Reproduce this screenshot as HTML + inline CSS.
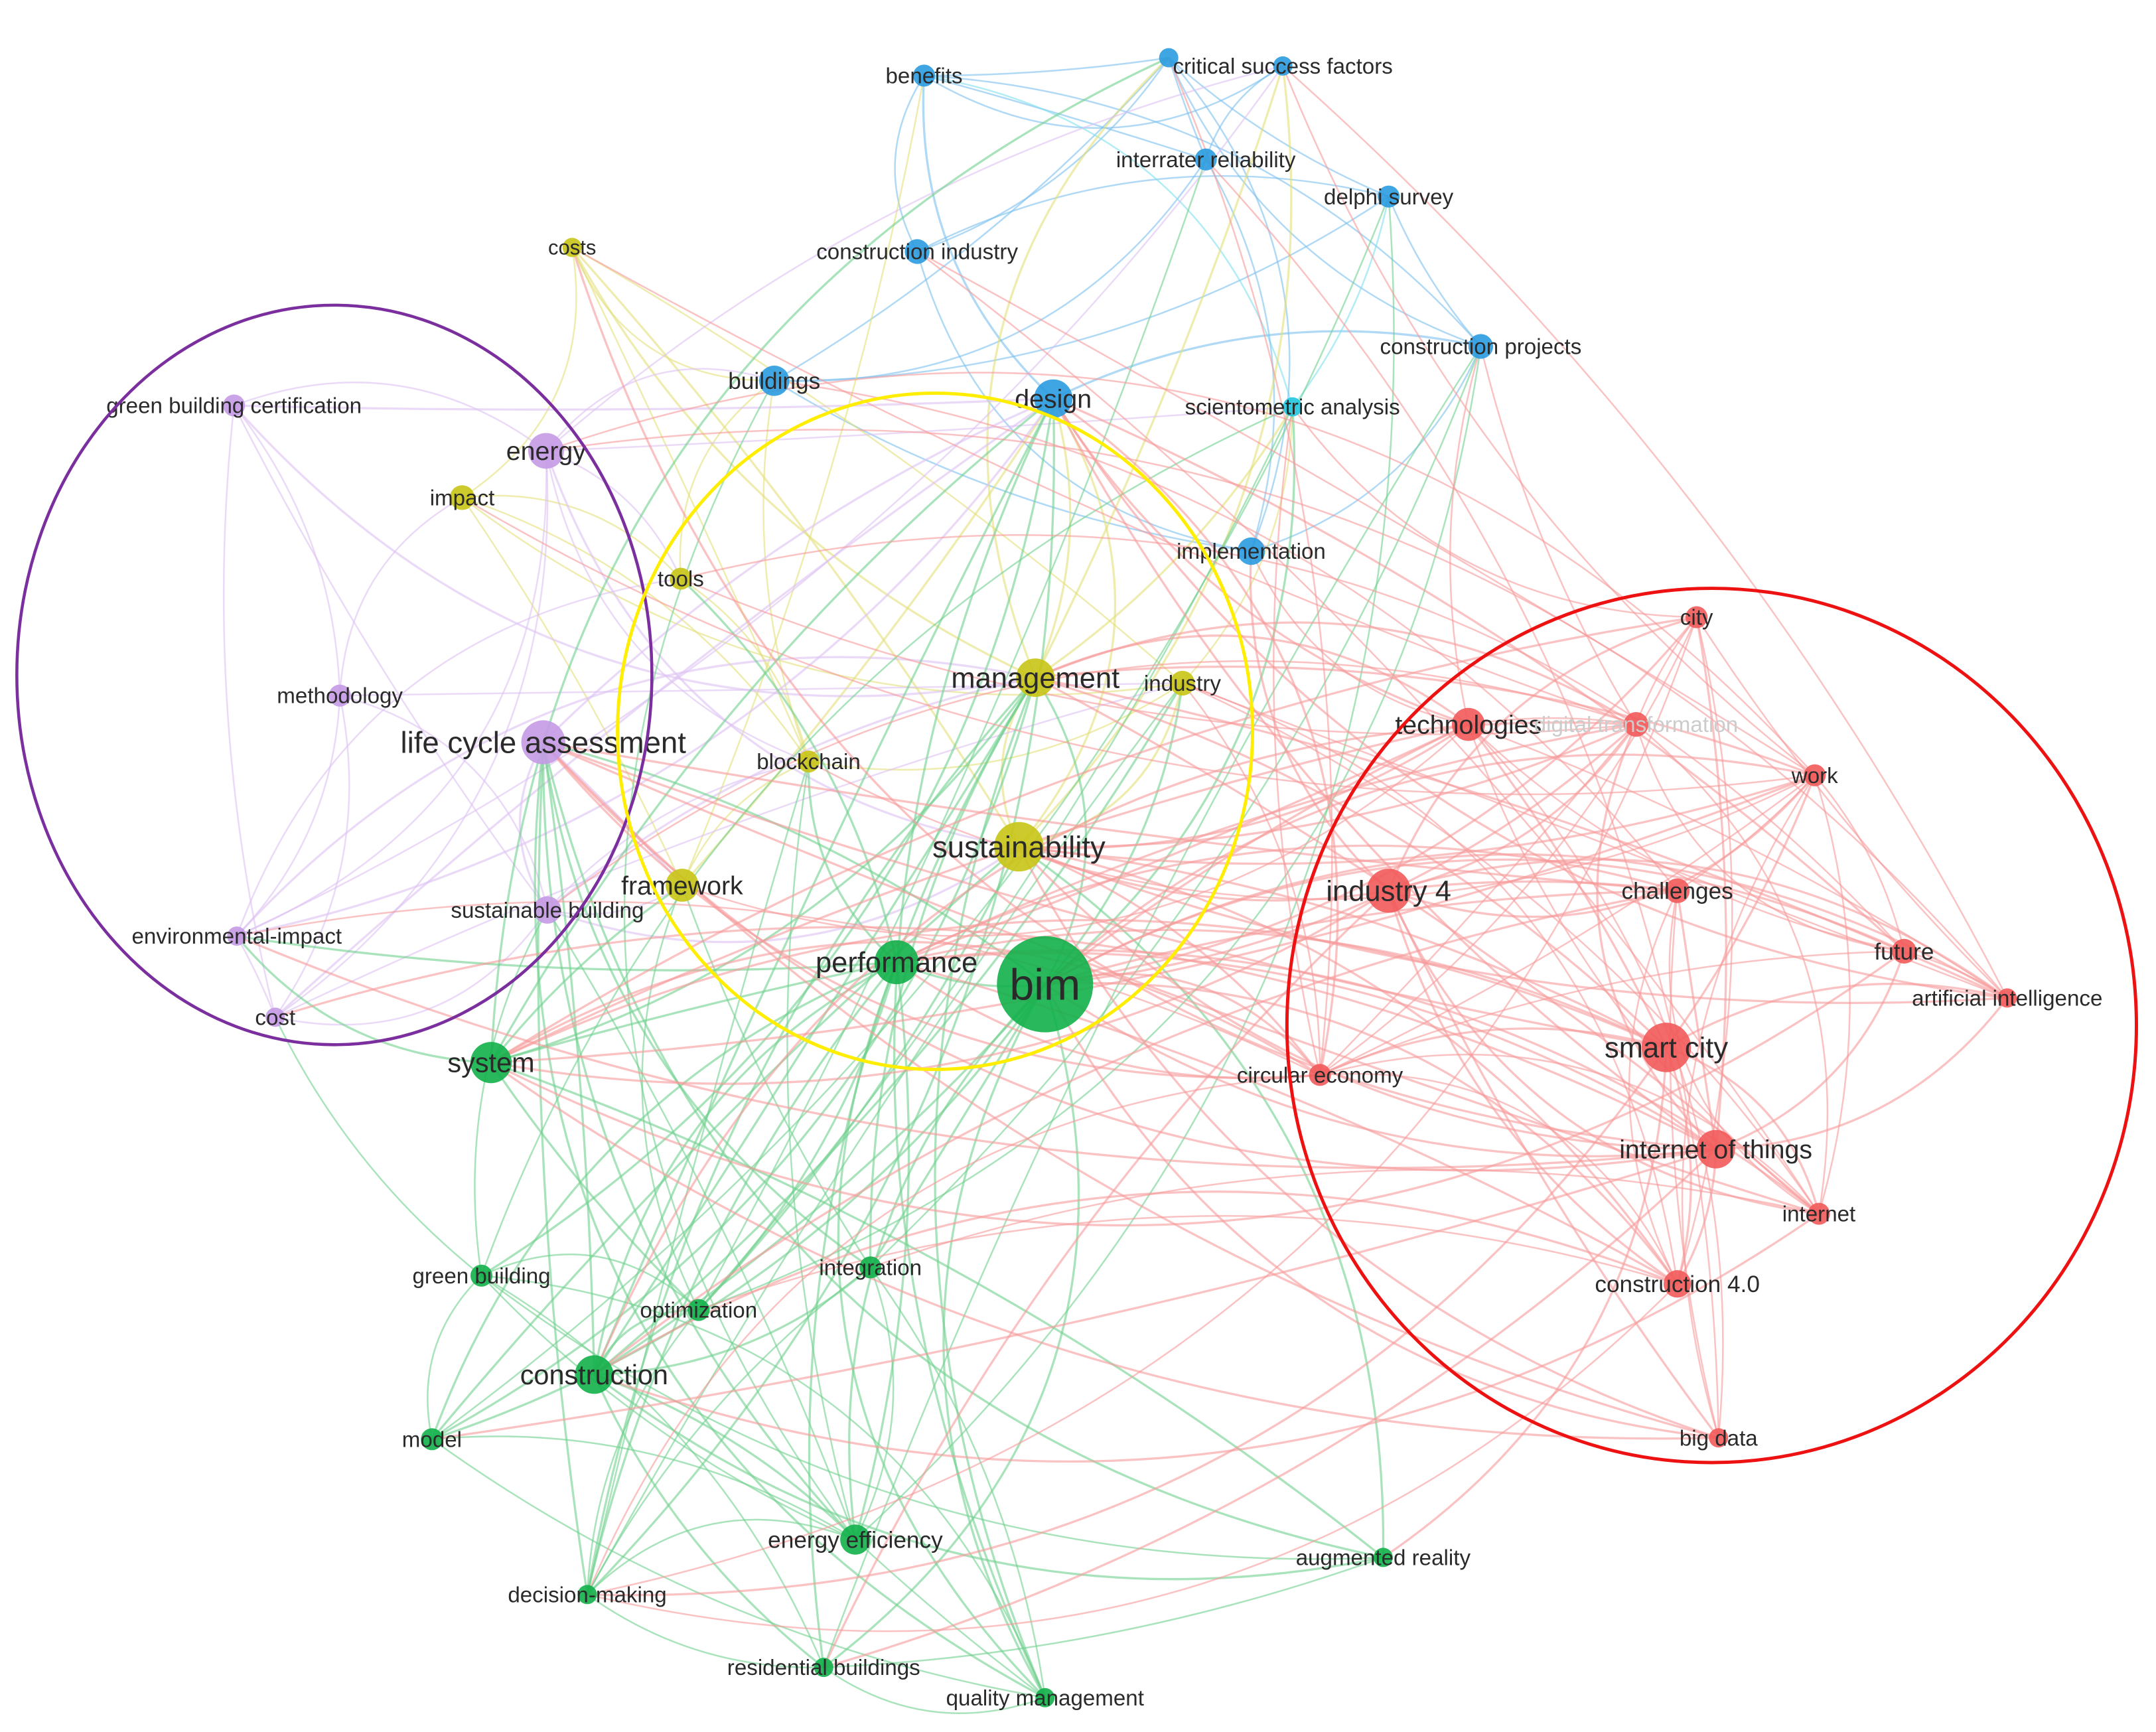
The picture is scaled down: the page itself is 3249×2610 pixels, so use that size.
<!DOCTYPE html>
<html><head><meta charset="utf-8">
<style>
html,body{margin:0;padding:0;background:#fff;}
svg{display:block;}
text{font-family:"Liberation Sans","DejaVu Sans",sans-serif;fill:#2a2a2a;}
</style></head>
<body>
<svg id="s" width="3249" height="2610" viewBox="0 0 1568 1260" xmlns="http://www.w3.org/2000/svg">
<g id="edges" fill="none"></g>
<g id="nodes"></g>
<g id="labels"></g>
<ellipse cx="243" cy="491" rx="231" ry="269" fill="none" stroke="#7b2f9e" stroke-width="2.2"/>
<ellipse cx="680" cy="532" rx="231" ry="246" fill="none" stroke="#ffee00" stroke-width="2.4"/>
<ellipse cx="1245" cy="746" rx="309" ry="318" fill="none" stroke="#ee1111" stroke-width="2.4"/>
</svg>
<script>
var C={b:"#2a9be0",c:"#22c6e0",y:"#c8c416",p:"#c59ae6",g:"#12b04a",r:"#f25a5a"};
var E={b:"#7cc0ee",c:"#7fe0ee",y:"#e2e07a",p:"#dcc2f2",g:"#6fd08e",r:"#f79a9a"};
var N=[
["benefits",672,55,8,"b",16],["",850,42,7,"b",16],["critical success factors",933,48,7,"b",16],
["interrater reliability",877,116,8,"b",16],["delphi survey",1010,143,8,"b",16],
["construction industry",667,183,9,"b",16],["construction projects",1077,252,9,"b",16],
["buildings",563,277,11,"b",17],["design",766,290,14,"b",19],["scientometric analysis",940,296,7,"c",16],
["implementation",910,401,10,"b",16],
["costs",416,180,7,"y",15],["impact",336,362,9,"y",16],["tools",495,421,8,"y",16],
["management",753,493,14,"y",21],["industry",860,497,9,"y",16],["blockchain",588,554,8,"y",16],
["sustainability",741,616,18,"y",22],["framework",496,644,12,"y",19],
["green building certification",170,295,8,"p",16],["energy",397,328,13,"p",19],["methodology",247,506,8,"p",16],
["life cycle assessment",395,540,16,"p",22],["sustainable building",398,662,10,"p",16],
["environmental-impact",172,681,7,"p",16],["cost",200,740,7,"p",16],
["performance",652,700,16,"g",21],["bim",760,716,35,"g",32],["system",357,773,15,"g",20],
["green building",350,928,8,"g",16],["integration",633,922,8,"g",16],["optimization",508,953,8,"g",16],
["construction",432,1000,14,"g",20],["model",314,1047,8,"g",16],["energy efficiency",622,1120,11,"g",17],
["decision-making",427,1160,7,"g",16],["augmented reality",1006,1133,7,"g",16],
["residential buildings",599,1213,7,"g",16],["quality management",760,1235,7,"g",16],
["city",1234,449,8,"r",16],["technologies",1068,527,12,"r",19],["digital transformation",1190,527,9,"r",16],
["work",1320,564,8,"r",16],["industry 4",1010,648,16,"r",21],["challenges",1220,648,9,"r",17],
["future",1385,692,9,"r",17],["artificial intelligence",1460,726,7,"r",16],["smart city",1212,762,18,"r",21],
["circular economy",960,782,8,"r",16],["internet of things",1248,836,14,"r",19],["internet",1323,883,8,"r",16],
["construction 4.0",1220,934,10,"r",17],["big data",1250,1046,7,"r",16]
];
var seed=11;function rnd(){seed=(seed*16807)%2147483647;return seed/2147483647;}
var eg=document.getElementById("edges"),ng=document.getElementById("nodes"),lg=document.getElementById("labels");
var NS="http://www.w3.org/2000/svg";
function edge(a,b){
 var x1=a[1],y1=a[2],x2=b[1],y2=b[2];var mx=(x1+x2)/2,my=(y1+y2)/2;var dx=x2-x1,dy=y2-y1;
 var k=(rnd()-0.5)*0.7;var cx=mx-dy*k,cy=my+dx*k;
 var p=document.createElementNS(NS,"path");
 p.setAttribute("d","M"+x1+","+y1+"Q"+cx+","+cy+" "+x2+","+y2);
 p.setAttribute("stroke",E[a[4]]);p.setAttribute("stroke-width",(a[3]>13||b[3]>13)?1.6:1.2);
 p.setAttribute("opacity",0.6);eg.appendChild(p);
}
var hubs=[27,17,14,26,43,47,8,22,32,28];
for(var i=0;i<N.length;i++){
 for(var j=0;j<N.length;j++){ if(i==j)continue;
  var a=N[i],b=N[j];var d=Math.hypot(a[1]-b[1],a[2]-b[2]);
  var pr=0.08;
  if(hubs.indexOf(j)>=0)pr=0.55;
  if(a[4]==b[4])pr=Math.max(pr,0.55);
  if(d<350)pr=Math.max(pr,0.3);
  if(a[4]=="b"||a[4]=="c")pr=Math.max(pr,0.3);
  if(j<i&&rnd()<pr*0.9)edge(a,b);
 }
}
N.forEach(function(n){
 var c=document.createElementNS(NS,"circle");c.setAttribute("cx",n[1]);c.setAttribute("cy",n[2]);c.setAttribute("r",n[3]);
 c.setAttribute("fill",C[n[4]]);c.setAttribute("opacity",0.9);ng.appendChild(c);
 if(n[0]){var t=document.createElementNS(NS,"text");t.setAttribute("x",n[1]);t.setAttribute("y",n[2]+n[5]*0.35);
 t.setAttribute("text-anchor","middle");t.setAttribute("font-size",n[5]);
 if(n[0]=="digital transformation")t.setAttribute("style","fill:#ccc");
 t.textContent=n[0];lg.appendChild(t);}
});
</script>
</body></html>
